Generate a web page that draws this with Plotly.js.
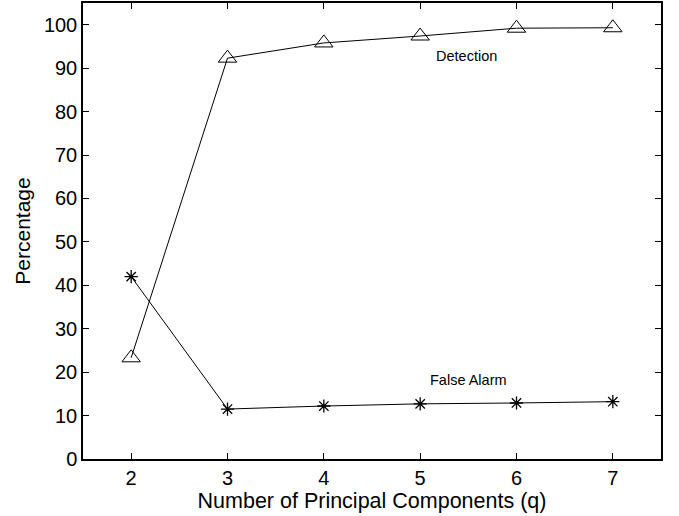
<!DOCTYPE html>
<html><head><meta charset="utf-8">
<script src="https://cdn.plot.ly/plotly-3.0.1.min.js"></script>
<style>body{margin:0;background:#fff}</style>
</head><body>
<div id="chart" style="width:679px;height:516px"></div>
<script>
const q = [2, 3, 4, 5, 6, 7];
const detection = [23.3, 92.3, 95.8, 97.4, 99.2, 99.3];
const falseAlarm = [42.0, 11.5, 12.2, 12.7, 12.9, 13.2];
const xTicks = [2, 3, 4, 5, 6, 7];
const yTicks = [0, 10, 20, 30, 40, 50, 60, 70, 80, 90, 100];

const font = "Liberation Sans, Arial, sans-serif";
const traces = [
  {x: q, y: detection, mode: 'lines+markers', name: 'Detection',
   line: {color: '#000', width: 1},
   marker: {symbol: 'triangle-up-open', size: 16, color: '#000', line: {width: 1, color: '#000'}}},
  {x: q, y: falseAlarm, mode: 'lines+markers', name: 'False Alarm',
   line: {color: '#000', width: 1},
   marker: {symbol: 'asterisk-open', size: 11, color: '#000', line: {width: 1.3, color: '#000'}}}
];
const axisCommon = {showline: true, linecolor: '#000', linewidth: 1.5, mirror: 'ticks',
  ticks: 'inside', ticklen: 6, tickwidth: 1, tickcolor: '#000', showgrid: false, zeroline: false,
  tickfont: {family: font, size: 20, color: '#000'}};
const layout = {
  width: 679, height: 516,
  margin: {l: 83, r: 18, t: 3, b: 57},
  paper_bgcolor: '#fff', plot_bgcolor: '#fff',
  showlegend: false,
  xaxis: Object.assign({}, axisCommon, {range: [1.5, 7.5], tickvals: xTicks,
    title: {text: 'Number of Principal Components (q)', font: {family: font, size: 21.5, color: '#000'}, standoff: 4}}),
  yaxis: Object.assign({}, axisCommon, {range: [0, 105], tickvals: yTicks,
    title: {text: 'Percentage', font: {family: font, size: 21, color: '#000'}, standoff: 8}}),
  annotations: [
    {x: 5.48, y: 92.8, xref: 'x', yref: 'y', text: 'Detection', showarrow: false,
     font: {family: font, size: 14.5, color: '#000'}},
    {x: 5.5, y: 18.3, xref: 'x', yref: 'y', text: 'False Alarm', showarrow: false,
     font: {family: font, size: 14.5, color: '#000'}}
  ]
};
Plotly.newPlot('chart', traces, layout, {displayModeBar: false});
</script>
</body></html>
